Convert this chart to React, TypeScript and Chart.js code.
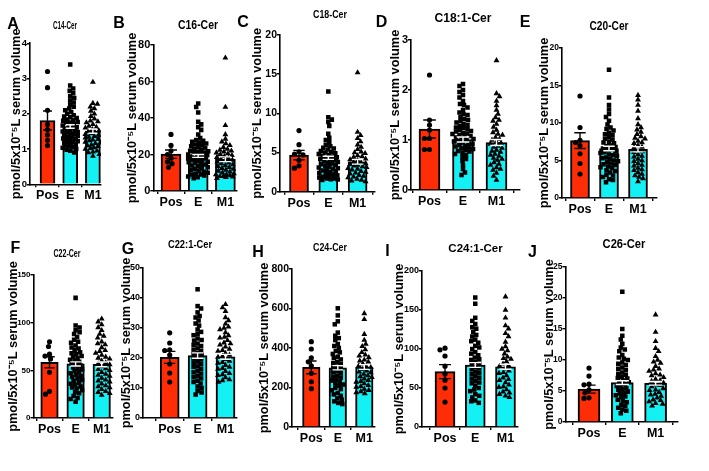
import React, { useEffect, useRef } from "react";
import { Chart, registerables } from "chart.js";

Chart.register(...registerables);

const FONT = '"Liberation Sans", Arial, Helvetica, sans-serif';
const RED = "#FF2D05";
const CYAN = "#14F1F5";

const GROUPS = ["Pos", "E", "M1"];
const TITLES = ["C14-Cer", "C16-Cer", "C18-Cer", "C18:1-Cer", "C20-Cer", "C22-Cer", "C22:1-Cer", "C24-Cer", "C24:1-Cer", "C26-Cer"];
const LETTERS = ["A", "B", "C", "D", "E", "F", "G", "H", "I", "J"];
const Y_TITLE = "pmol/5x10⁻⁵L serum volume";
const Y_MAX = [4, 80, 20, 3, 20, 150, 50, 800, 200, 25];
const Y_STEP = [1, 20, 5, 1, 5, 50, 10, 200, 50, 5];

const MEANS = [
  [1.81, 1.64, 1.51],
  [20.2, 19.2, 17.4],
  [4.68, 4.33, 3.82],
  [1.22, 1.01, 0.95],
  [7.65, 6.6, 6.5],
  [58.4, 56.7, 56.3],
  [20.2, 20.8, 20.4],
  [302, 300, 304],
  [71, 79.5, 77.3],
  [5.3, 6.35, 6.24],
];
const SEMS = [
  [0.27, 0.05, 0.06],
  [2.3, 0.8, 1.3],
  [0.6, 0.2, 0.3],
  [0.18, 0.05, 0.06],
  [1.05, 0.3, 0.35],
  [5.8, 2.2, 2.5],
  [2.0, 0.9, 0.8],
  [32, 11, 12],
  [9, 3, 3.2],
  [0.65, 0.3, 0.3],
];

const A_POS = [3.2, 2.74, 2.1, 1.7, 1.55, 1.4, 1.25, 1.1];
const A_E = [3.4, 2.8, 2.72, 2.65, 2.58, 2.5, 2.45, 2.38, 2.32, 2.26, 2.2, 2.15, 2.1, 2.05, 2.0, 1.96, 1.92, 1.88, 1.84, 1.8, 1.77, 1.74, 1.7, 1.67, 1.64, 1.6, 1.57, 1.54, 1.5, 1.47, 1.44, 1.4, 1.37, 1.34, 1.3, 1.27, 1.24, 1.2, 1.16, 1.12, 1.08, 1.04, 1.0, 0.95, 0.9, 1.9, 1.82, 1.75, 1.62, 1.55, 1.48, 1.42, 1.35, 1.29, 1.22, 1.18, 1.14, 1.1, 1.05, 0.98];
const A_M1 = [2.9, 2.3, 2.28, 2.2, 2.15, 2.08, 2.0, 1.93, 1.86, 1.8, 1.75, 1.7, 1.65, 1.6, 1.56, 1.52, 1.48, 1.44, 1.4, 1.36, 1.32, 1.28, 1.24, 1.2, 1.16, 1.12, 1.08, 1.04, 1.0, 0.95, 0.9, 0.85, 0.8, 1.78, 1.62, 1.5, 1.42, 1.34, 1.26, 1.18, 1.1, 1.02, 0.92];

const B_POS = [31, 25, 22, 20, 18, 16, 15, 13];
const B_E = [48, 46, 43, 38, 36.5, 35, 33.5, 31, 29, 28, 27, 26.5, 26, 25, 24.5, 24, 23, 22.5, 22, 21.5, 21, 20.5, 20, 19.5, 19, 18.5, 18, 17.5, 17, 16.5, 16, 15.5, 15, 14, 13.5, 13, 12, 11.5, 11, 10, 9.5, 9, 8, 7.5, 7, 27.5, 25.5, 23.5, 21.8, 20.8, 19.8, 18.8, 17.8, 16.8, 15.8, 14.5, 12.5, 10.5, 9, 8.5];
const B_M1 = [73, 46, 36, 31, 28.5, 27, 26, 25, 24, 23, 22, 21.5, 21, 20, 19.5, 19, 18, 17.5, 17, 16, 15.5, 15, 14, 13.5, 13, 12, 11.5, 11, 10, 9.5, 9, 8.5, 8, 7.5, 7, 22.5, 20.5, 18.5, 16.5, 14.5, 12.5, 10.5, 9, 8, 7.8];

const C_POS = [7.8, 6.0, 5.1, 4.8, 4.7, 4.0, 3.3, 3.0];
const C_E = [12.8, 9.5, 9.2, 8.9, 8.4, 7.4, 6.9, 6.6, 6.3, 6.0, 5.8, 5.6, 5.4, 5.2, 5.0, 4.8, 4.7, 4.5, 4.4, 4.2, 4.1, 3.9, 3.8, 3.6, 3.5, 3.3, 3.2, 3.0, 2.9, 2.7, 2.6, 2.4, 2.3, 2.1, 2.0, 1.8, 1.7, 1.6, 1.5, 5.5, 5.1, 4.9, 4.6, 4.3, 4.0, 3.7, 3.4, 3.1, 2.8, 2.5, 2.2, 1.9, 1.7, 1.55];
const C_M1 = [15.2, 7.6, 7.2, 6.8, 6.4, 6.0, 5.7, 5.4, 5.1, 4.9, 4.6, 4.4, 4.2, 4.0, 3.8, 3.6, 3.5, 3.3, 3.1, 3.0, 2.8, 2.6, 2.5, 2.3, 2.1, 2.0, 1.8, 1.6, 1.4, 1.3, 5.0, 4.5, 4.1, 3.7, 3.4, 3.2, 2.9, 2.4, 1.9, 1.5];

const D_POS = [2.3, 1.4, 1.3, 1.2, 1.03, 1.03, 0.81, 0.81];
const D_E = [2.12, 2.08, 2.0, 1.96, 1.9, 1.85, 1.78, 1.72, 1.65, 1.6, 1.55, 1.5, 1.46, 1.42, 1.38, 1.35, 1.32, 1.28, 1.25, 1.22, 1.2, 1.17, 1.14, 1.12, 1.1, 1.07, 1.05, 1.02, 1.0, 0.98, 0.95, 0.92, 0.9, 0.87, 0.85, 0.82, 0.8, 0.77, 0.74, 0.7, 0.66, 0.62, 0.58, 0.5, 0.42, 0.35, 0.3, 1.7, 1.52, 1.4, 1.3, 1.24, 1.18, 1.13, 1.08, 1.03, 0.97, 0.93, 0.88, 0.83, 0.78, 0.72];
const D_M1 = [2.59, 1.93, 1.87, 1.78, 1.69, 1.6, 1.52, 1.45, 1.38, 1.32, 1.26, 1.2, 1.15, 1.1, 1.05, 1.0, 0.96, 0.92, 0.88, 0.84, 0.8, 0.76, 0.72, 0.68, 0.64, 0.6, 0.55, 0.5, 0.45, 0.4, 0.34, 0.28, 0.2, 1.4, 1.12, 1.02, 0.94, 0.86, 0.78, 0.7, 0.62, 0.52, 0.42];

const E_POS = [13.6, 9.4, 7.7, 7.4, 7.0, 5.9, 4.6, 3.2];
const E_E = [17.1, 13.4, 12.4, 11.8, 11.2, 10.8, 10.3, 9.8, 9.4, 9.0, 8.7, 8.4, 8.1, 7.8, 7.5, 7.3, 7.0, 6.8, 6.6, 6.4, 6.2, 6.0, 5.8, 5.6, 5.4, 5.2, 5.0, 4.8, 4.6, 4.4, 4.2, 4.0, 3.7, 3.4, 3.1, 2.8, 2.5, 2.1, 9.2, 8.5, 7.9, 7.4, 6.9, 6.5, 6.1, 5.7, 5.3, 4.9, 4.5, 4.1, 3.6, 3.0, 2.4];
const E_M1 = [13.7, 13.1, 12.4, 11.6, 10.6, 9.8, 9.4, 9.1, 8.8, 8.5, 8.2, 7.9, 7.6, 7.3, 7.0, 6.7, 6.4, 6.1, 5.8, 5.5, 5.2, 4.9, 4.6, 4.3, 4.0, 3.7, 3.4, 3.0, 2.6, 2.2, 8.0, 7.4, 6.8, 6.2, 5.6, 5.0, 4.4, 3.8, 3.2, 2.8];

const F_POS = [80, 75, 67, 65, 62, 48, 28, 25];
const F_E = [126, 97, 95, 92, 88, 85, 82, 79, 76, 73, 71, 69, 67, 65, 63, 61, 59, 57, 55, 53, 51, 49, 47, 45, 43, 41, 39, 37, 35, 33, 31, 29, 26, 23, 20, 17, 90, 80, 74, 68, 64, 60, 56, 52, 48, 44, 40, 36, 32, 27, 21];
const F_M1 = [104, 101, 98, 95, 92, 88, 84, 80, 77, 74, 71, 68, 66, 64, 62, 60, 58, 56, 54, 52, 50, 48, 46, 44, 42, 40, 38, 36, 34, 32, 30, 28, 26, 24, 86, 78, 70, 63, 57, 51, 45, 39, 33, 27];

const G_POS = [28.4, 25, 22.7, 22.5, 21, 18, 15, 12];
const G_E = [42.9, 37.3, 36.5, 35.2, 33.5, 32.5, 30.8, 29.5, 28.7, 27.6, 26.5, 25.8, 24.8, 24, 23.2, 22.4, 21.6, 21, 20.2, 19.5, 18.8, 18, 17.2, 16.4, 15.6, 14.8, 14, 13.2, 12.4, 11.5, 10.5, 9, 7.8, 31.5, 28, 26, 24.4, 22.8, 21.3, 19.8, 18.4, 17, 15.2, 13.6, 12, 10, 8.5, 34];
const G_M1 = [37.9, 36.8, 35.6, 32.5, 31.4, 30.4, 29.5, 28.5, 27.5, 26.7, 25.9, 25.1, 24.4, 23.7, 23, 22.3, 21.6, 21, 20.3, 19.6, 19, 18.3, 17.6, 17, 16.3, 15.6, 14.9, 14.2, 13.5, 12.8, 12, 33.5, 30, 27, 24.8, 22.6, 20.6, 18.6, 16.6, 14.5, 12.5];

const H_POS = [432, 395, 350, 330, 309, 272, 229, 194];
const H_E = [601, 535, 520, 478, 462, 440, 420, 400, 385, 370, 356, 342, 330, 318, 306, 295, 284, 272, 260, 250, 240, 230, 220, 210, 198, 186, 172, 158, 145, 130, 116, 450, 410, 378, 350, 324, 300, 278, 255, 235, 215, 192, 165, 138, 122, 565];
const H_M1 = [575, 545, 470, 440, 408, 392, 378, 365, 352, 340, 330, 320, 311, 302, 293, 284, 276, 268, 260, 252, 244, 236, 228, 220, 211, 202, 192, 180, 170, 420, 360, 335, 306, 280, 256, 232, 206, 186, 175];

const I_POS = [101, 99, 91, 78, 68, 60, 50, 32];
const I_E = [166, 158, 136, 132, 126, 122, 116, 112, 108, 104, 100, 96, 92, 89, 86, 83, 80, 77, 74, 71, 68, 65, 62, 59, 56, 53, 50, 46, 42, 38, 34, 31, 140, 128, 118, 110, 102, 94, 87, 81, 75, 69, 63, 57, 48, 40, 33];
const I_M1 = [167, 150, 130, 126, 116, 109, 103, 98, 94, 90, 87, 84, 81, 78, 75, 72, 69, 66, 63, 60, 57, 54, 51, 48, 45, 42, 40, 140, 120, 100, 88, 79, 70, 61, 52, 44, 38];

const J_POS = [8.7, 7.4, 6.1, 6.0, 5.2, 4.7, 3.9, 3.8];
const J_E = [21, 13.9, 13.3, 12.6, 12, 11.4, 10.8, 10.4, 10, 9.6, 9.2, 8.8, 8.4, 8, 7.6, 7.3, 7, 6.7, 6.4, 6.1, 5.8, 5.5, 5.2, 4.9, 4.6, 4.3, 4, 3.6, 3.2, 2.8, 2.3, 1.8, 1.4, 15, 11.7, 10.2, 9.4, 8.6, 7.8, 7.1, 6.5, 5.9, 5.3, 4.7, 4.1, 3.4, 2.6, 2.0];
const J_M1 = [17.3, 14.5, 11.9, 11.4, 10.6, 10, 9.5, 9, 8.6, 8.2, 7.8, 7.5, 7.2, 6.9, 6.6, 6.3, 6, 5.7, 5.4, 5.1, 4.8, 4.5, 4.2, 3.9, 3.6, 3.3, 3, 2.6, 13, 9.7, 8.4, 7.6, 6.7, 5.9, 5.2, 4.4, 3.5, 2.9];

const POINTS = [
  [A_POS, A_E, A_M1],
  [B_POS, B_E, B_M1],
  [C_POS, C_E, C_M1],
  [D_POS, D_E, D_M1],
  [E_POS, E_E, E_M1],
  [F_POS, F_E, F_M1],
  [G_POS, G_E, G_M1],
  [H_POS, H_E, H_M1],
  [I_POS, I_E, I_M1],
  [J_POS, J_E, J_M1],
];

// layout (pixels): axis x, plot top/bottom, x-axis end, first bar center, bar spacing, bar width,
// y-title center x, y tick font size, panel title center / font size / horizontal scale, letter center
const LAYOUT = [
  { ax: 30, top: 43.3, bottom: 184.3, right: 101, c0: 47.5, sp: 22.7, bw: 15, ytx: 16.5, tfs: 9.5, tx: 65, ty: 24.5, tf: 11, ts: 0.57, lx: 13, ly: 23.5 },
  { ax: 153.3, top: 45, bottom: 191, right: 237, c0: 171, sp: 27.2, bw: 20, ytx: 132.5, tfs: 11, tx: 198, ty: 25, tf: 12, ts: 0.87, lx: 119, ly: 23 },
  { ax: 280, top: 35, bottom: 191.7, right: 375, c0: 299, sp: 29.3, bw: 19, ytx: 258, tfs: 10.5, tx: 330, ty: 14, tf: 11.6, ts: 0.76, lx: 243, ly: 21.5 },
  { ax: 411, top: 40, bottom: 190, right: 520, c0: 429.5, sp: 33.5, bw: 21, ytx: 396, tfs: 11, tx: 463, ty: 17, tf: 13, ts: 0.93, lx: 381.5, ly: 22 },
  { ax: 562, top: 48, bottom: 198, right: 657, c0: 580, sp: 29, bw: 19, ytx: 545, tfs: 8.5, tx: 609, ty: 26, tf: 12, ts: 0.85, lx: 525, ly: 22 },
  { ax: 33.5, top: 275, bottom: 418, right: 113, c0: 49.5, sp: 26.1, bw: 17.5, ytx: 13.5, tfs: 8, tx: 66.5, ty: 253, tf: 11, ts: 0.64, lx: 15.5, ly: 248 },
  { ax: 143, top: 268, bottom: 418, right: 237, c0: 169.7, sp: 27.9, bw: 19, ytx: 126.5, tfs: 9, tx: 190, ty: 243.5, tf: 11, ts: 0.85, lx: 128, ly: 249 },
  { ax: 292, top: 269, bottom: 427, right: 375, c0: 311.3, sp: 26.5, bw: 17.5, ytx: 265, tfs: 10.5, tx: 330, ty: 247.5, tf: 11.5, ts: 0.77, lx: 258, ly: 251.5 },
  { ax: 422, top: 271, bottom: 427, right: 518, c0: 445, sp: 30.25, bw: 20, ytx: 400, tfs: 9, tx: 475.5, ty: 249, tf: 11.5, ts: 1.0, lx: 387.5, ly: 250.5 },
  { ax: 565.5, top: 267, bottom: 422, right: 678, c0: 589, sp: 33.3, bw: 22, ytx: 549.5, tfs: 8.5, tx: 623.5, ty: 243.5, tf: 12, ts: 0.93, lx: 532.5, ly: 252 },
];

const POINT_STYLES = ["circle", "rect", "triangle"];
const POINT_RADII = [2.6, 3.2, 3.4];
const SWARM_DIAM = [4.8, 4.0, 4.2];
const ERR_COLORS = ["#000", "#fff", "#fff"];

// beeswarm: horizontal pixel offsets computed from the values so marks do not overlap
function swarm(vals: number[], ppu: number, diam: number, maxOff: number): number[] {
  const order = vals.map((_, k) => k).sort((a, b) => vals[b] - vals[a]);
  const placed: [number, number][] = [];
  const out = new Array(vals.length).fill(0);
  order.forEach((k, n) => {
    const y = vals[k] * ppu;
    const sign = n % 2 === 0 ? 1 : -1;
    const cands: number[] = [0];
    for (let s = 0.5; s <= maxOff + 0.001; s += 0.5) cands.push(sign * s, -sign * s);
    let best = 0;
    let bestD = -1;
    for (const c of cands) {
      let dmin = Infinity;
      for (const [px, py] of placed) {
        const d = Math.hypot(px - c, py - y);
        if (d < dmin) dmin = d;
      }
      if (dmin >= diam) {
        best = c;
        bestD = dmin;
        break;
      }
      if (dmin > bestD + 0.3) {
        bestD = dmin;
        best = c;
      }
    }
    placed.push([best, y]);
    out[k] = best;
  });
  return out;
}

function Panel({ i }: { i: number }) {
  const ref = useRef<HTMLCanvasElement | null>(null);
  const L = LAYOUT[i];
  const cl = Math.round(L.ytx - 7.7);
  const ct = Math.round(L.top - 24);
  const cw = Math.round(L.right + 10 - cl);
  const ch = Math.round(L.bottom + 26 - ct);

  useEffect(() => {
    const canvas = ref.current;
    if (!canvas) return;
    const padTop = L.top - ct;
    const padRight = cw - (L.right - cl);
    const xH = ch - (L.bottom - ct);
    const yW = L.ax - cl;
    const ppu = (L.bottom - L.top) / Y_MAX[i];
    const xmin = (L.ax - L.c0) / L.sp;
    const xmax = (L.right - L.c0) / L.sp;
    const means = MEANS[i];
    const sems = SEMS[i];

    const datasets: any[] = [
      {
        type: "bar",
        data: GROUPS.map((_, g) => ({ x: g, y: means[g] })),
        backgroundColor: [RED, CYAN, CYAN],
        borderColor: "#000",
        borderWidth: 2,
        barThickness: L.bw,
        order: 3,
      },
    ];
    POINTS[i].forEach((vals, g) => {
      const offs = swarm(vals, ppu, SWARM_DIAM[g], L.bw * 0.5);
      datasets.push({
        type: "scatter",
        data: vals.map((v, k) => ({ x: g + offs[k] / L.sp, y: v })),
        pointStyle: POINT_STYLES[g],
        pointRadius: POINT_RADII[g],
        backgroundColor: "#000",
        borderColor: "#000",
        borderWidth: 0,
        order: 1,
      });
    });

    const errPlugin = {
      id: "errbars" + i,
      afterDatasetsDraw(chart: any) {
        const { ctx } = chart;
        const xs = chart.scales.x;
        const ys = chart.scales.y;
        means.forEach((m, g) => {
          const px = xs.getPixelForValue(g);
          const yt = ys.getPixelForValue(m + sems[g]);
          const yb = ys.getPixelForValue(m - sems[g]);
          const cw2 = L.bw * 0.3;
          ctx.save();
          ctx.strokeStyle = ERR_COLORS[g];
          ctx.lineWidth = 1.4;
          ctx.beginPath();
          ctx.moveTo(px, yt);
          ctx.lineTo(px, yb);
          ctx.moveTo(px - cw2, yt);
          ctx.lineTo(px + cw2, yt);
          ctx.moveTo(px - cw2, yb);
          ctx.lineTo(px + cw2, yb);
          ctx.stroke();
          ctx.restore();
        });
      },
    };

    const axisGrid = (len: number) => ({
      display: true,
      drawOnChartArea: false,
      drawTicks: true,
      tickLength: len,
      color: "#000",
      lineWidth: 1.4,
    });

    const chart = new Chart(canvas, {
      type: "bar",
      data: { datasets },
      options: {
        responsive: false,
        animation: false,
        devicePixelRatio: 1,
        events: [],
        layout: { padding: { top: padTop, right: padRight, bottom: 0, left: 0 } },
        plugins: { legend: { display: false }, tooltip: { enabled: false } },
        scales: {
          x: {
            type: "linear",
            min: xmin,
            max: xmax,
            offset: false,
            bounds: "data",
            afterBuildTicks: (s: any) => {
              s.ticks = GROUPS.map((_, g) => ({ value: g }));
            },
            afterFit: (s: any) => {
              s.height = xH;
            },
            ticks: {
              autoSkip: false,
              maxRotation: 0,
              minRotation: 0,
              padding: 1,
              color: "#000",
              font: { family: FONT, size: 12.5, weight: "bold" },
              callback: (v: any) => GROUPS[Math.round(Number(v))] ?? "",
            },
            grid: axisGrid(3),
            border: { display: true, color: "#000", width: 1.6 },
          },
          y: {
            type: "linear",
            min: 0,
            max: Y_MAX[i],
            afterFit: (s: any) => {
              s.width = yW;
            },
            ticks: {
              stepSize: Y_STEP[i],
              padding: 0,
              color: "#000",
              font: { family: FONT, size: L.tfs, weight: "bold" },
            },
            grid: axisGrid(3),
            border: { display: true, color: "#000", width: 1.6 },
            title: {
              display: true,
              text: Y_TITLE,
              color: "#000",
              padding: 0,
              font: { family: FONT, size: 12.8, weight: "bold" },
            },
          },
        },
      } as any,
      plugins: [errPlugin],
    } as any);
    return () => chart.destroy();
  }, [i]);

  return (
    <canvas
      ref={ref}
      width={cw}
      height={ch}
      style={{ position: "absolute", left: cl, top: ct, width: cw, height: ch }}
    />
  );
}

export default function App() {
  return (
    <div
      style={{
        position: "absolute",
        left: 0,
        top: 0,
        width: 709,
        height: 471,
        background: "#fff",
        overflow: "hidden",
        fontFamily: FONT,
      }}
    >
      {LAYOUT.map((L, i) => (
        <Panel key={"p" + i} i={i} />
      ))}
      {LAYOUT.map((L, i) => (
        <div
          key={"t" + i}
          style={{
            position: "absolute",
            left: L.tx,
            top: L.ty,
            transform: `translate(-50%, -50%) scaleX(${L.ts})`,
            font: `bold ${L.tf}px ${FONT}`,
            lineHeight: 1,
            whiteSpace: "nowrap",
            color: "#000",
          }}
        >
          {TITLES[i]}
        </div>
      ))}
      {LAYOUT.map((L, i) => (
        <div
          key={"l" + i}
          style={{
            position: "absolute",
            left: L.lx,
            top: L.ly,
            transform: "translate(-50%, -50%)",
            font: `bold 16px ${FONT}`,
            lineHeight: 1,
            whiteSpace: "nowrap",
            color: "#000",
          }}
        >
          {LETTERS[i]}
        </div>
      ))}
    </div>
  );
}
